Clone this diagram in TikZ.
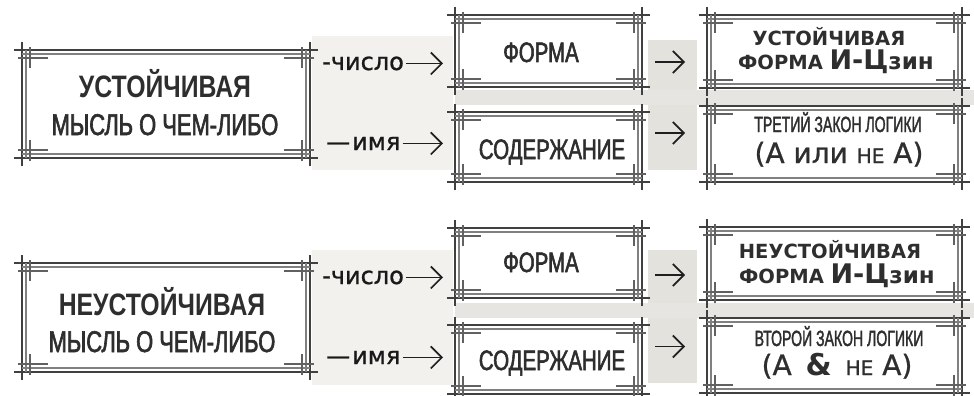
\documentclass[tikz,border=0pt]{standalone}
\usepackage{fontspec}
\setmainfont{DejaVu Sans}
\newfontfamily\dvf[FakeBold=1]{DejaVu Sans}
\newfontfamily\dvb{DejaVu Sans}
\newfontfamily\nA[FakeStretch=0.80]{Liberation Sans}
\newfontfamily\nB[FakeStretch=0.73,FakeBold=2]{Liberation Sans}
\newfontfamily\nC[FakeStretch=0.64,FakeBold=1.6]{Liberation Sans}
\usetikzlibrary{calc,arrows.meta}
\definecolor{bgA}{HTML}{F2F1EE}
\definecolor{bgB}{HTML}{E3E2DD}
\definecolor{bgC}{HTML}{E6E5E1}
\tikzset{
  boxn/.style={rectangle, fill=white, draw=none, inner sep=0pt, outer sep=0pt},
  frthick/.style={line width=2.6pt, draw=black!75},
  frthin/.style={line width=1.4pt, draw=black!50},
  frbar/.style={line width=1.6pt, draw=black!62},
  arr/.style={line width=1.7pt, draw=black!88, -{Straight Barb[length=11pt,width=22pt]}},
  txt/.style={inner sep=0pt, anchor=base, text=black!82},
  lbl/.style={inner sep=0pt, anchor=base west, text=black!90, font={\dvf\fontsize{24}{24}\selectfont}},
  ttlL/.style={txt, font={\nA\bfseries\fontsize{31}{31}\selectfont}},
  subL/.style={txt, font={\nB\fontsize{30}{30}\selectfont}},
  midT/.style={txt, font={\nB\fontsize{28}{28}\selectfont}},
  resA/.style={txt, font={\dvb\bfseries\fontsize{19.5}{19.5}\selectfont}},
  lawA/.style={txt, font={\nC\fontsize{22}{22}\selectfont}},
  lawB/.style={txt, font={\dvf\fontsize{28}{28}\selectfont}},
}
\newcommand\ornframe[1]{%
  \draw[frthick] ($(#1.north west)+(-8,0)$) -- ($(#1.north east)+(8,0)$);
  \draw[frthick] ($(#1.south west)+(-8,0)$) -- ($(#1.south east)+(8,0)$);
  \draw[frthick] ($(#1.north west)+(0,-8)$) -- ($(#1.south west)+(0,8)$);
  \draw[frthick] ($(#1.north east)+(0,-8)$) -- ($(#1.south east)+(0,8)$);
  \draw[frthin] ($(#1.north west)+(0,4)$) -- ($(#1.north east)+(0,4)$);
  \draw[frthin] ($(#1.south west)+(0,-4)$) -- ($(#1.south east)+(0,-4)$);
  \draw[frthin] ($(#1.north west)+(4,0)$) -- ($(#1.south west)+(4,0)$);
  \draw[frthin] ($(#1.north east)+(-4,0)$) -- ($(#1.south east)+(-4,0)$);
  \draw[frbar] ($(#1.north west)+(-4,8)$) -- ($(#1.north west)+(26,8)$);
  \draw[frbar] ($(#1.north west)+(8,-3)$) -- ($(#1.north west)+(8,18)$);
  \draw[frbar] ($(#1.north east)+(4,8)$) -- ($(#1.north east)+(-26,8)$);
  \draw[frbar] ($(#1.north east)+(-8,-3)$) -- ($(#1.north east)+(-8,18)$);
  \draw[frbar] ($(#1.south west)+(-4,-8)$) -- ($(#1.south west)+(26,-8)$);
  \draw[frbar] ($(#1.south west)+(8,3)$) -- ($(#1.south west)+(8,-18)$);
  \draw[frbar] ($(#1.south east)+(4,-8)$) -- ($(#1.south east)+(-26,-8)$);
  \draw[frbar] ($(#1.south east)+(-8,3)$) -- ($(#1.south east)+(-8,-18)$);
}
\begin{document}
\begin{tikzpicture}[x=1pt,y=-1pt]
\useasboundingbox (0,0) rectangle (974,396);
\fill[white] (0,0) rectangle (974,396);
% background bands
\fill[bgA] (312,36) rectangle (453,170);
\fill[bgA] (312,250) rectangle (453,385);
\fill[bgB] (648,40) rectangle (697,170);
\fill[bgB] (648,250) rectangle (697,383);
\fill[bgC] (455,90) rectangle (974,105);
\fill[bgC] (455,303) rectangle (974,318);
% boxes
\node[boxn, minimum width=288pt, minimum height=108pt] (L1) at (166,104) {};
\node[boxn, minimum width=288pt, minimum height=109pt] (L2) at (166,317.5) {};
\node[boxn, minimum width=187pt, minimum height=72pt] (F1) at (548.5,51) {};
\node[boxn, minimum width=187pt, minimum height=70pt] (S1) at (548.5,147) {};
\node[boxn, minimum width=187pt, minimum height=70pt] (F2) at (548.5,263) {};
\node[boxn, minimum width=187pt, minimum height=69pt] (S2) at (548.5,359.5) {};
\node[boxn, minimum width=255pt, minimum height=73pt] (R1) at (834.5,51.5) {};
\node[boxn, minimum width=255pt, minimum height=76pt] (T1) at (834.5,144) {};
\node[boxn, minimum width=255pt, minimum height=73pt] (R2) at (834.5,263.5) {};
\node[boxn, minimum width=255pt, minimum height=75pt] (T2) at (834.5,355.5) {};
\ornframe{L1}\ornframe{L2}
\ornframe{F1}\ornframe{S1}\ornframe{F2}\ornframe{S2}
\ornframe{R1}\ornframe{T1}\ornframe{R2}\ornframe{T2}
% texts
\node[ttlL] (L1a) at (165,97) {УСТОЙЧИВАЯ};
\node[subL] (L1b) at (165,135) {МЫСЛЬ О ЧЕМ-ЛИБО};
\node[ttlL] (L2a) at (162,315) {НЕУСТОЙЧИВАЯ};
\node[subL] (L2b) at (162,352) {МЫСЛЬ О ЧЕМ-ЛИБО};
\node[midT] (F1t) at (541,62) {ФОРМА};
\node[midT] (S1t) at (552,159) {СОДЕРЖАНИЕ};
\node[midT] (F2t) at (541,272) {ФОРМА};
\node[midT] (S2t) at (552,370) {СОДЕРЖАНИЕ};
\node[resA] (R1a) at (829,46) {УСТОЙЧИВАЯ};
\node[resA] (R1b) at (836,70) {ФОРМА {\fontsize{27}{27}\selectfont И-Ц}{\fontsize{23}{23}\selectfont зин}};
\node[lawA] (T1a) at (838,132) {ТРЕТИЙ ЗАКОН ЛОГИКИ};
\node[lawB] (T1b) at (839,163) {(А или {\fontsize{20}{20}\selectfont НЕ} А)};
\node[resA] (R2a) at (830,258) {НЕУСТОЙЧИВАЯ};
\node[resA] (R2b) at (837,283) {ФОРМА {\fontsize{27}{27}\selectfont И-Ц}{\fontsize{23}{23}\selectfont зин}};
\node[lawA] (T2a) at (839,346) {ВТОРОЙ ЗАКОН ЛОГИКИ};
\node[lawB] (T2b) at (837,375) {(А\hspace{5pt} {\dvb\bfseries\fontsize{30}{30}\selectfont\&}\hspace{5pt} {\fontsize{20}{20}\selectfont НЕ} А)};
% labels
\node[lbl] (c1) at (322,70) {-число};
\node[lbl] (n1) at (326,150) {—\kern2pt имя};
\node[lbl] (c2) at (322,284) {-число};
\node[lbl] (n2) at (326,364) {—\kern2pt имя};
% connectors
\draw[arr, shorten <=2pt, shorten >=12pt] (c1.east) -- (c1.east -| F1.west);
\draw[arr, shorten <=2pt, shorten >=12pt] (n1.east) -- (n1.east -| S1.west);
\draw[arr, shorten <=2pt, shorten >=12pt] (c2.east) -- (c2.east -| F2.west);
\draw[arr, shorten <=2pt, shorten >=12pt] (n2.east) -- (n2.east -| S2.west);
\coordinate (a1) at ($(F1.east)+(13,11)$);
\coordinate (a2) at ($(S1.east)+(13,-14)$);
\coordinate (a3) at ($(F2.east)+(13,12)$);
\coordinate (a4) at ($(S2.east)+(13,-13)$);
\draw[arr, shorten >=22pt] (a1) -- (a1 -| R1.west);
\draw[arr, shorten >=22pt] (a2) -- (a2 -| T1.west);
\draw[arr, shorten >=22pt] (a3) -- (a3 -| R2.west);
\draw[arr, shorten >=22pt] (a4) -- (a4 -| T2.west);
\end{tikzpicture}
\end{document}
